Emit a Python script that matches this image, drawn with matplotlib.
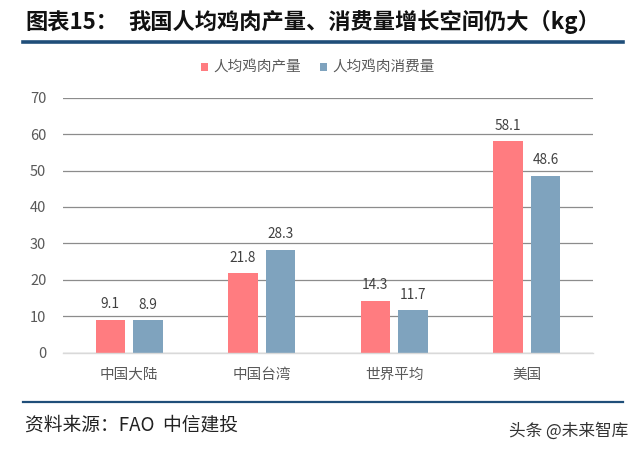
import numpy as np
import matplotlib
matplotlib.use("Agg")
import matplotlib.pyplot as plt
from matplotlib.lines import Line2D

plt.rcParams['font.family'] = ['Noto Sans CJK SC', 'DejaVu Sans']

# data (kg per person)
categories = ['中国大陆', '中国台湾', '世界平均', '美国']
production = [9.1, 21.8, 14.3, 58.1]
consumption = [8.9, 28.3, 11.7, 48.6]
series_names = ['人均鸡肉产量', '人均鸡肉消费量']
y_ticks = [0, 10, 20, 30, 40, 50, 60, 70]

RED = '#FF7C80'
BLUE = '#7FA3BE'
GRAY_TXT = '#595959'
NAVY = '#1F4E79'

W, H = 640, 453
fig = plt.figure(figsize=(W / 100, H / 100), dpi=100)
ax = fig.add_axes([63 / W, 1 - 352.7 / H, (593 - 63) / W, (352.7 - 97.7) / H])

x = np.arange(len(categories))
bw = 0.223
off = bw / 2 + 0.031
b1 = ax.bar(x - off, production, bw, color=RED, label=series_names[0], zorder=3)
b2 = ax.bar(x + off, consumption, bw, color=BLUE, label=series_names[1], zorder=3)

for bars in (b1, b2):
    for rect in bars:
        v = rect.get_height()
        ax.annotate(f'{v:.1f}', (rect.get_x() + rect.get_width() / 2, v),
                    xytext=(0, 6), textcoords='offset points',
                    ha='center', va='bottom', fontsize=9.8, color='#404040')

ax.set_xlim(-0.5, len(categories) - 0.5)
ax.set_ylim(0, 70)
ax.set_yticks(y_ticks)
ax.set_xticks(x)
ax.set_xticklabels(categories)
ax.tick_params(axis='x', length=0, pad=11, labelsize=10.5, labelcolor=GRAY_TXT)
ax.tick_params(axis='y', length=0, pad=12, labelsize=10.5, labelcolor=GRAY_TXT)
ax.yaxis.grid(True, color='#8C8C8C', linewidth=0.9, zorder=0)
ax.set_axisbelow(True)
for s in ('top', 'right', 'left'):
    ax.spines[s].set_visible(False)
ax.spines['bottom'].set_color('#D9D9D9')
ax.spines['bottom'].set_linewidth(1.0)
ax.spines['bottom'].set_zorder(4)

fig.legend(handles=[b1, b2], loc='center', bbox_to_anchor=(318 / W, 1 - 68 / H),
           ncol=2, frameon=False, fontsize=10.5, labelcolor=GRAY_TXT,
           handlelength=0.45, handleheight=0.45, handletextpad=0.4,
           columnspacing=1.3)

# title and rules
fig.text(25 / W, 1 - 22 / H, '图表15：', fontsize=16, fontweight='bold',
         color='#111111', ha='left', va='center')
fig.text(128 / W, 1 - 22 / H, '我国人均鸡肉产量、消费量增长空间仍大（kg）',
         fontsize=16, fontweight='bold', color='#111111', ha='left', va='center')
fig.add_artist(Line2D([22.7 / W, 623 / W], [1 - 41.7 / H] * 2,
                      color=NAVY, linewidth=2.6))
fig.add_artist(Line2D([22.7 / W, 623 / W], [1 - 402.3 / H] * 2,
                      color=NAVY, linewidth=1.6))

fig.text(25 / W, 1 - 425 / H, '资料来源：FAO  中信建投', fontsize=13.5,
         color='#222222', ha='left', va='center')
fig.text(628 / W, 1 - 431 / H, '头条 @未来智库', fontsize=12,
         color='#333333', ha='right', va='center')

fig.savefig('out.png', dpi=100)
